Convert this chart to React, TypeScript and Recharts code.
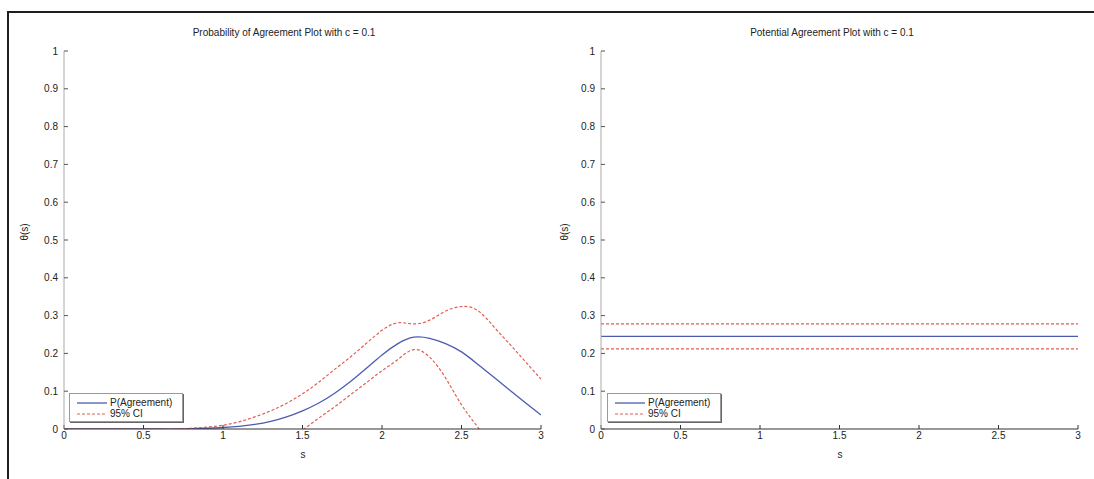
import React from 'react';
import { LineChart, Line, XAxis, YAxis, Legend } from 'recharts';

// ---- Left panel data (Probability of Agreement) ----
const sValues = [0, 0.1, 0.2, 0.3, 0.4, 0.5, 0.6, 0.7, 0.8, 0.9, 1.0, 1.1, 1.2, 1.3, 1.4, 1.5, 1.6, 1.7, 1.8, 1.9, 2.0, 2.1, 2.2, 2.3, 2.4, 2.5, 2.6, 2.7, 2.8, 2.9, 3.0];
const pAgreement = [0, 0, 0, 0, 0, 0, 0, 0, 0.001, 0.002, 0.004, 0.007, 0.012, 0.02, 0.032, 0.048, 0.068, 0.094, 0.125, 0.16, 0.196, 0.226, 0.243, 0.24, 0.226, 0.204, 0.172, 0.138, 0.104, 0.07, 0.037];
const upperCI = [0, 0, 0, 0, 0, 0, 0, 0, 0.002, 0.005, 0.01, 0.019, 0.032, 0.048, 0.068, 0.093, 0.123, 0.157, 0.19, 0.226, 0.261, 0.281, 0.278, 0.288, 0.312, 0.324, 0.314, 0.272, 0.226, 0.179, 0.132];
const lowerCI = [null, null, null, null, null, null, null, null, null, null, null, null, null, null, -0.032, -0.003, 0.028, 0.058, 0.09, 0.122, 0.154, 0.184, 0.21, 0.19, 0.135, 0.064, 0.006, -0.055, null, null, null];

// ---- Right panel data (Potential Agreement) ----
const sFlat = [0, 0.5, 1, 1.5, 2, 2.5, 3];
const pFlat = [0.245, 0.245, 0.245, 0.245, 0.245, 0.245, 0.245];
const upperFlat = [0.278, 0.278, 0.278, 0.278, 0.278, 0.278, 0.278];
const lowerFlat = [0.212, 0.212, 0.212, 0.212, 0.212, 0.212, 0.212];

// ---- Ticks & labels ----
const xTicks = [0, 0.5, 1, 1.5, 2, 2.5, 3];
const yTicks = [0, 0.1, 0.2, 0.3, 0.4, 0.5, 0.6, 0.7, 0.8, 0.9, 1];
const leftTitle = 'Probability of Agreement Plot with c = 0.1';
const rightTitle = 'Potential Agreement Plot with c = 0.1';
const xLabel = 's';
const yLabel = 'θ(s)';
const seriesNames = ['P(Agreement)', '95% CI'];

const leftData = sValues.map((s, i) => ({ s, p: pAgreement[i], upper: upperCI[i], lower: lowerCI[i] }));
const rightData = sFlat.map((s, i) => ({ s, p: pFlat[i], upper: upperFlat[i], lower: lowerFlat[i] }));

const FONT = '"Liberation Sans", Arial, Helvetica, sans-serif';
const BLUE = '#4b5cb0';
const RED = '#e35d4f';
const TEXT = '#222';

const LegendBox = () => (
  <div style={{ width: 114, height: 29, border: '1px solid #9a9a9a', boxShadow: '1px 1px 0 #666', background: '#fff', fontFamily: FONT, fontSize: 10, color: TEXT, boxSizing: 'border-box', paddingTop: 3 }}>
    <div style={{ display: 'flex', alignItems: 'center', height: 11 }}>
      <svg width={40} height={10} style={{ display: 'block' }}>
        <line x1={7} x2={37} y1={5} y2={5} stroke={BLUE} strokeWidth={1.3} />
      </svg>
      <span>{seriesNames[0]}</span>
    </div>
    <div style={{ display: 'flex', alignItems: 'center', height: 11 }}>
      <svg width={40} height={10} style={{ display: 'block' }}>
        <line x1={7} x2={37} y1={5} y2={5} stroke={RED} strokeWidth={1.2} strokeDasharray="3 2" />
      </svg>
      <span>{seriesNames[1]}</span>
    </div>
  </div>
);

type PanelProps = { data: any[]; width: number; marginLeft: number; marginRight: number; legendLeft: number };

const Panel = ({ data, width, marginLeft, marginRight, legendLeft }: PanelProps) => (
  <LineChart width={width} height={479} data={data} margin={{ top: 51, right: marginRight, bottom: 20, left: marginLeft }}>
    <XAxis
      dataKey="s"
      type="number"
      domain={[0, 3]}
      ticks={xTicks}
      height={30}
      tickSize={-4}
      tickMargin={7}
      axisLine={{ stroke: '#333', strokeWidth: 1.2 }}
      tickLine={{ stroke: '#333' }}
      tick={{ fill: TEXT, fontSize: 10, fontFamily: FONT }}
      allowDataOverflow
    />
    <XAxis
      xAxisId="top"
      orientation="top"
      dataKey="s"
      type="number"
      domain={[0, 3]}
      ticks={xTicks}
      height={0}
      tickSize={-4}
      tick={false}
      axisLine={{ stroke: '#777' }}
      tickLine={{ stroke: '#555' }}
      allowDataOverflow
    />
    <YAxis
      type="number"
      domain={[0, 1]}
      ticks={yTicks}
      width={40}
      tickSize={-4}
      tickMargin={10}
      axisLine={{ stroke: '#aaa' }}
      tickLine={{ stroke: '#555' }}
      tick={{ fill: TEXT, fontSize: 10, fontFamily: FONT }}
      allowDataOverflow
    />
    <YAxis
      yAxisId="right"
      orientation="right"
      type="number"
      domain={[0, 1]}
      ticks={yTicks}
      width={0}
      tickSize={-4}
      tick={false}
      axisLine={{ stroke: '#aaa' }}
      tickLine={{ stroke: '#555' }}
      allowDataOverflow
    />
    <Line type="natural" dataKey="p" stroke={BLUE} strokeWidth={1.3} dot={false} isAnimationActive={false} />
    <Line type="natural" dataKey="upper" stroke={RED} strokeWidth={1.2} strokeDasharray="3 2" dot={false} isAnimationActive={false} />
    <Line type="natural" dataKey="lower" stroke={RED} strokeWidth={1.2} strokeDasharray="3 2" dot={false} isAnimationActive={false} />
    <Legend
      layout="vertical"
      align="center"
      verticalAlign="middle"
      content={() => <LegendBox />}
      wrapperStyle={{ left: legendLeft, top: 393, width: 116, height: 31 }}
    />
  </LineChart>
);

const textStyle: React.CSSProperties = { position: 'absolute', fontFamily: FONT, fontSize: 10, color: TEXT, whiteSpace: 'nowrap', lineHeight: '12px' };

export default function App() {
  return (
    <div style={{ position: 'absolute', left: 0, top: 0, width: 1094, height: 479, background: '#fff', overflow: 'hidden' }}>
      <div style={{ position: 'absolute', left: 7, top: 11, width: 1100, height: 480, borderTop: '2px solid #1e1e1e', borderLeft: '2px solid #1e1e1e' }} />
      <div style={{ position: 'absolute', left: 0, top: 0 }}>
        <Panel data={leftData} width={560} marginLeft={24} marginRight={19} legendLeft={69} />
      </div>
      <div style={{ position: 'absolute', left: 560, top: 0 }}>
        <Panel data={rightData} width={534} marginLeft={1} marginRight={16} legendLeft={47} />
      </div>
      <div style={{ ...textStyle, left: 284, top: 27, transform: 'translateX(-50%)' }}>{leftTitle}</div>
      <div style={{ ...textStyle, left: 832, top: 27, transform: 'translateX(-50%)' }}>{rightTitle}</div>
      <div style={{ ...textStyle, left: 303, top: 449, transform: 'translateX(-50%)' }}>{xLabel}</div>
      <div style={{ ...textStyle, left: 840, top: 449, transform: 'translateX(-50%)' }}>{xLabel}</div>
      <div style={{ ...textStyle, left: 25, top: 232, transform: 'translate(-50%, -50%) rotate(-90deg)' }}>{yLabel}</div>
      <div style={{ ...textStyle, left: 565, top: 232, transform: 'translate(-50%, -50%) rotate(-90deg)' }}>{yLabel}</div>
    </div>
  );
}
